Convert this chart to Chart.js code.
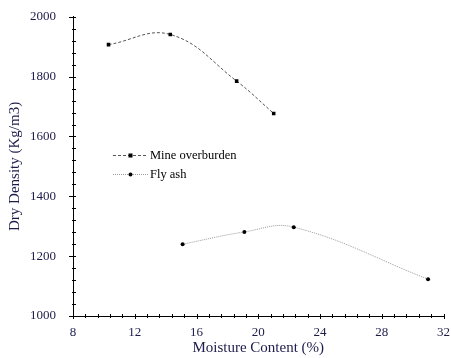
<!DOCTYPE html>
<html>
<head>
<meta charset="utf-8">
<script src="https://cdn.jsdelivr.net/npm/chart.js@4/dist/chart.umd.min.js"></script>
<style>
html,body{margin:0;padding:0;background:#fff;}
#wrap{width:451px;height:358px;position:relative;}
</style>
</head>
<body>
<div id="wrap"><canvas id="c" width="451" height="358"></canvas></div>
<script>
// Data
const seriesNames = ['Mine overburden', 'Fly ash'];
const mineMoisture = [10.3, 14.3, 18.6, 21.0];
const mineDensity  = [1907, 1941, 1785, 1677];
const flyMoisture  = [15.1, 19.1, 22.3, 31.0];
const flyDensity   = [1240, 1281, 1297, 1123];
const xTicks = [8, 12, 16, 20, 24, 28, 32];
const yTicks = [1000, 1200, 1400, 1600, 1800, 2000];
const xTitle = 'Moisture Content (%)';
const yTitle = 'Dry Density (Kg/m3)';

const toPts = (xs, ys) => xs.map((x, i) => ({x: x, y: ys[i]}));
const serif = "'Liberation Serif', 'DejaVu Serif', serif";
const labelColor = '#1c1c4a';

// minor ticks + legend plugin
const decor = {
  id: 'decor',
  afterDraw(chart) {
    const ctx = chart.ctx;
    const xs = chart.scales.x, ys = chart.scales.y;
    const ax = xs.left, ay = ys.bottom;
    ctx.save();
    ctx.strokeStyle = '#000';
    ctx.lineWidth = 1;
    ctx.setLineDash([]);
    ctx.beginPath();
    for (let k = 0; k <= 25; k++) {
      const v = ys.min + k * 40;
      const py = Math.round(ys.getPixelForValue(v)) + 0.5;
      const major = k % 5 === 0;
      ctx.moveTo(ax - (major ? 4 : 1), py);
      ctx.lineTo(ax + 3, py);
    }
    for (let k = 0; k <= 30; k++) {
      const v = xs.min + k * 0.8;
      const px = Math.round(xs.getPixelForValue(v)) + 0.5;
      const major = k % 5 === 0;
      ctx.moveTo(px, ay - 2);
      ctx.lineTo(px, ay + (major ? 3 : 2));
    }
    ctx.stroke();

    // legend
    const lx0 = 113, lx1 = 148, tx = 150;
    const rows = [155, 174];
    chart.data.datasets.forEach((ds, i) => {
      const y = rows[i] + 0.5;
      ctx.beginPath();
      ctx.strokeStyle = ds.borderColor;
      ctx.setLineDash(ds.borderDash);
      ctx.lineWidth = 1;
      ctx.moveTo(lx0, y); ctx.lineTo(lx1, y);
      ctx.stroke();
      ctx.setLineDash([]);
      ctx.fillStyle = '#000';
      const cx = (lx0 + lx1) / 2;
      if (ds.pointStyle === 'rect') {
        ctx.fillRect(cx - 2, y - 2, 4, 4);
      } else {
        ctx.beginPath(); ctx.arc(cx, y, 2, 0, Math.PI * 2); ctx.fill();
      }
      ctx.fillStyle = '#000';
      ctx.font = "12.5px " + serif;
      ctx.textBaseline = 'middle';
      ctx.textAlign = 'left';
      ctx.fillText(ds.label, tx, y);
    });
    ctx.restore();
  }
};

new Chart(document.getElementById('c'), {
  type: 'line',
  data: {
    datasets: [
      {
        label: seriesNames[0],
        data: toPts(mineMoisture, mineDensity),
        borderColor: '#555555',
        borderWidth: 1,
        borderDash: [3, 2],
        tension: 0.4,
        pointStyle: 'rect',
        pointRadius: 2.5,
        pointBackgroundColor: '#000',
        pointBorderColor: '#000',
        pointBorderWidth: 0,
        fill: false
      },
      {
        label: seriesNames[1],
        data: toPts(flyMoisture, flyDensity),
        borderColor: '#9a9a9a',
        borderWidth: 1,
        borderDash: [1, 1],
        tension: 0.4,
        pointStyle: 'circle',
        pointRadius: 2,
        pointBackgroundColor: '#000',
        pointBorderColor: '#000',
        pointBorderWidth: 0,
        fill: false
      }
    ]
  },
  options: {
    responsive: false,
    animation: false,
    layout: { padding: { top: 9, right: 6, left: 6, bottom: 0 } },
    plugins: { legend: { display: false }, tooltip: { enabled: false } },
    scales: {
      x: {
        type: 'linear',
        min: 8, max: 32,
        afterBuildTicks: (s) => { s.ticks = xTicks.map(v => ({value: v})); },
        grid: { display: false },
        border: { display: true, color: '#000', width: 1 },
        ticks: { padding: 1, color: labelColor, font: { family: serif, size: 13 }, maxRotation: 0, callback: (v) => String(v) },
        title: { display: true, text: xTitle, color: labelColor, font: { family: serif, size: 15 }, padding: { top: 0, bottom: 1 } },
        afterFit: (s) => { s.height = 42; }
      },
      y: {
        type: 'linear',
        min: 1000, max: 2000,
        afterBuildTicks: (s) => { s.ticks = yTicks.map(v => ({value: v})); },
        grid: { display: false },
        border: { display: true, color: '#000', width: 1 },
        ticks: { padding: 9, color: labelColor, font: { family: serif, size: 13 }, callback: (v) => String(v) },
        title: { display: true, text: yTitle, color: labelColor, font: { family: serif, size: 15 }, padding: { top: 0, bottom: 4 } },
        afterFit: (s) => { s.width = 67; }
      }
    }
  },
  plugins: [decor]
});
</script>
</body>
</html>
